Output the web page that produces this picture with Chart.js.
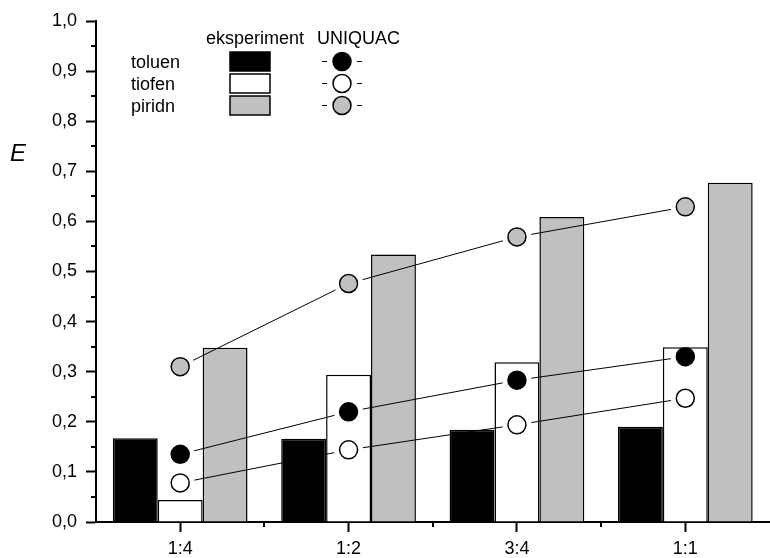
<!DOCTYPE html>
<html>
<head>
<meta charset="utf-8">
<script src="https://cdn.jsdelivr.net/npm/chart.js@4.4.0/dist/chart.umd.min.js"></script>
<style>
  html, body { margin: 0; padding: 0; background: #fff; overflow: hidden; }
  #wrap { width: 770px; height: 558px; overflow: hidden; }
</style>
</head>
<body>
<div id="wrap"><canvas id="chart" width="780" height="558"></canvas></div>
<script>
// mole ratio categories
const categories = ['1:4', '1:2', '3:4', '1:1'];
const components = ['toluen', 'tiofen', 'piridn'];

// experiment (bars)
const expToluen = [0.167, 0.166, 0.184, 0.190];
const expTiofen = [0.044, 0.294, 0.319, 0.349];
const expPiridn = [0.348, 0.534, 0.609, 0.677];

// UNIQUAC model (circles)
const uniToluen = [0.135, 0.220, 0.283, 0.330];
const uniTiofen = [0.078, 0.144, 0.194, 0.247];
const uniPiridn = [0.310, 0.476, 0.569, 0.629];

const colors = ['#000000', '#ffffff', '#c0c0c0'];
const FONT = '"Liberation Sans", Arial, sans-serif';

const barSet = (label, data, color) => ({
  type: 'bar',
  label: label,
  data: data,
  backgroundColor: color,
  borderColor: '#000',
  borderWidth: 1.5,
  categoryPercentage: 0.8,
  barPercentage: 1.0,
  order: 2
});

const pointSet = (label, data, color) => ({
  type: 'line',
  label: label + ' UNIQUAC',
  data: data,
  showLine: false,
  pointRadius: 9,
  pointHoverRadius: 9,
  pointBackgroundColor: color,
  pointBorderColor: '#000',
  pointBorderWidth: 1.5,
  order: 1
});

// connecting lines stop short of the circles
const gapLines = {
  id: 'gapLines',
  afterDatasetsDraw(chart) {
    const ctx = chart.ctx;
    const gap = 14.5;
    ctx.save();
    ctx.strokeStyle = '#000';
    ctx.lineWidth = 1;
    chart.data.datasets.forEach((ds, i) => {
      if (ds.type !== 'line') return;
      const pts = chart.getDatasetMeta(i).data;
      for (let k = 0; k < pts.length - 1; k++) {
        const a = pts[k], b = pts[k + 1];
        const dx = b.x - a.x, dy = b.y - a.y;
        const len = Math.hypot(dx, dy);
        const ux = dx / len, uy = dy / len;
        ctx.beginPath();
        ctx.moveTo(a.x + ux * gap, a.y + uy * gap);
        ctx.lineTo(b.x - ux * gap, b.y - uy * gap);
        ctx.stroke();
      }
    });
    ctx.restore();
  }
};

// minor ticks, axis title and the legend block
const extras = {
  id: 'extras',
  afterDraw(chart) {
    const ctx = chart.ctx;
    const xs = chart.scales.x, ys = chart.scales.y;
    const area = chart.chartArea;
    ctx.save();
    ctx.strokeStyle = '#000';
    ctx.lineWidth = 2;
    for (let v = 0.05; v < 1; v += 0.1) {
      const y = Math.round(ys.getPixelForValue(v));
      ctx.beginPath();
      ctx.moveTo(area.left - 5, y);
      ctx.lineTo(area.left, y);
      ctx.stroke();
    }
    for (let i = 0; i < categories.length - 1; i++) {
      const x = Math.round((xs.getPixelForValue(i) + xs.getPixelForValue(i + 1)) / 2);
      ctx.beginPath();
      ctx.moveTo(x, area.bottom);
      ctx.lineTo(x, area.bottom + 5);
      ctx.stroke();
    }

    ctx.fillStyle = '#000';
    ctx.font = 'italic 24px ' + FONT;
    ctx.textAlign = 'center';
    ctx.textBaseline = 'middle';
    ctx.fillText('E', 18, 154);

    // legend
    ctx.font = '18px ' + FONT;
    ctx.textAlign = 'left';
    ctx.textBaseline = 'alphabetic';
    ctx.fillText('eksperiment', 206, 44);
    ctx.fillText('UNIQUAC', 317, 44);
    const bars = chart.data.datasets.filter(d => d.type === 'bar');
    const dots = chart.data.datasets.filter(d => d.type === 'line');
    bars.forEach((ds, i) => {
      const cy = 61.5 + i * 22;
      ctx.fillStyle = '#000';
      ctx.fillText(ds.label, 131, cy + 6.5);
      ctx.fillStyle = ds.backgroundColor;
      ctx.lineWidth = 1.5;
      ctx.fillRect(230, cy - 9.5, 40, 19);
      ctx.strokeRect(230, cy - 9.5, 40, 19);
      ctx.lineWidth = 1;
      ctx.beginPath();
      ctx.moveTo(322, cy); ctx.lineTo(327, cy);
      ctx.moveTo(357, cy); ctx.lineTo(362, cy);
      ctx.stroke();
      ctx.beginPath();
      ctx.arc(342, cy, 9, 0, Math.PI * 2);
      ctx.fillStyle = dots[i].pointBackgroundColor;
      ctx.fill();
      ctx.lineWidth = 1.5;
      ctx.stroke();
    });
    ctx.restore();
  }
};

new Chart(document.getElementById('chart'), {
  data: {
    labels: categories,
    datasets: [
      barSet(components[0], expToluen, colors[0]),
      barSet(components[1], expTiofen, colors[1]),
      barSet(components[2], expPiridn, colors[2]),
      pointSet(components[0], uniToluen, colors[0]),
      pointSet(components[1], uniTiofen, colors[1]),
      pointSet(components[2], uniPiridn, colors[2])
    ]
  },
  options: {
    responsive: false,
    animation: false,
    devicePixelRatio: 1,
    events: [],
    layout: { padding: { top: 21, right: 4, left: 0, bottom: 0 } },
    plugins: {
      legend: { display: false },
      tooltip: { enabled: false }
    },
    scales: {
      x: {
        type: 'category',
        offset: true,
        grid: { offset: false, drawOnChartArea: false, tickLength: 10, tickWidth: 2, tickColor: '#000' },
        border: { color: '#000', width: 2 },
        ticks: { color: '#000', font: { family: FONT, size: 18 }, padding: 6, maxRotation: 0 },
        afterFit: s => { s.height = 36; }
      },
      y: {
        min: 0,
        max: 1,
        grid: { drawOnChartArea: false, tickLength: 10, tickWidth: 2, tickColor: '#000' },
        border: { color: '#000', width: 2 },
        ticks: {
          stepSize: 0.1,
          color: '#000',
          font: { family: FONT, size: 18 },
          padding: 9,
          callback: v => v.toFixed(1).replace('.', ',')
        },
        afterFit: s => { s.width = 96; }
      }
    }
  },
  plugins: [gapLines, extras]
});
</script>
</body>
</html>
